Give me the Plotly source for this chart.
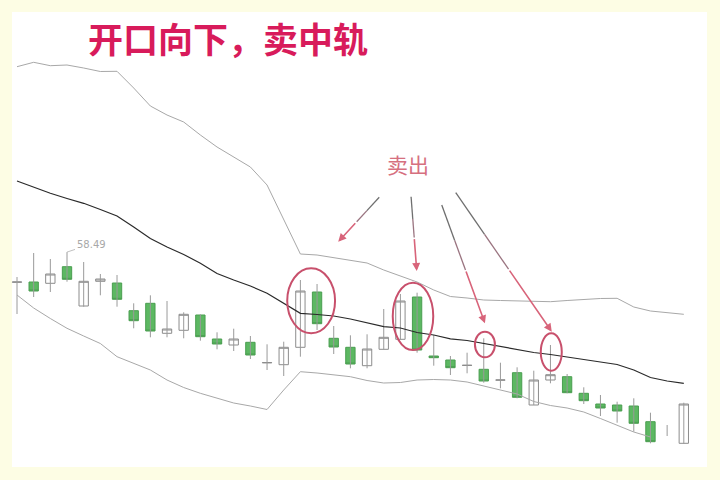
import plotly.graph_objects as go

# ---- data ----
idx = list(range(41))
opens = [55.48, 55.50, 55.37, 57.03, 53.10, 55.57, 55.40, 52.63, 53.37, 50.37,
         50.67, 52.20, 49.80, 49.20, 49.47, 47.42, 47.23, 48.97, 54.50, 49.87,
         48.97, 47.13, 48.77, 49.77, 54.00, 48.10, 47.70, 47.16, 46.77, 45.69,
         46.43, 43.20, 45.70, 46.03, 44.37, 43.30, 43.20, 43.10, 41.53, None,
         39.37]
closes = [55.50, 54.60, 56.30, 55.77, 55.57, 55.80, 53.77, 51.63, 50.60, 50.80,
          52.27, 50.03, 49.30, 49.80, 48.20, 47.44, 48.97, 54.60, 51.33, 49.00,
          47.30, 48.80, 49.97, 53.60, 48.70, 47.93, 46.93, 47.17, 45.60, 45.70,
          43.97, 45.70, 46.23, 44.43, 43.63, 42.90, 42.60, 41.37, 39.53, None,
          43.30]
highs = [56.00, 58.40, 57.80, 58.49, 57.50, 56.30, 56.20, 53.37, 54.17, 53.60,
         52.47, 52.27, 50.47, 50.83, 50.10, 49.27, 49.53, 55.70, 55.30, 51.10,
         50.17, 50.27, 52.80, 54.30, 54.43, 50.20, 48.10, 48.43, 49.87, 47.43,
         46.97, 46.63, 49.20, 46.30, 44.97, 44.20, 43.53, 43.87, 42.43, 41.20,
         43.43]
lows = [52.30, 54.00, 54.50, 55.53, 53.03, 54.17, 53.03, 50.87, 49.97, 49.97,
        49.87, 49.63, 48.77, 48.60, 47.80, 46.70, 46.10, 48.03, 50.70, 48.30,
        46.87, 46.87, 48.77, 49.77, 48.43, 47.13, 46.20, 46.37, 45.43, 44.87,
        43.87, 43.20, 45.37, 44.37, 43.30, 42.10, 41.43, 40.53, 39.37, 40.10,
        39.30]
upper = [77.03, 77.47, 77.13, 77.20, 76.90, 76.55, 76.57, 74.90, 73.10, 72.20,
         71.50, 70.20, 69.00, 68.00, 67.00, 65.20, 61.70, 58.30, 58.20, 57.95,
         57.70, 57.40, 56.70, 56.10, 55.50, 54.70, 54.05, 53.90, 53.70, 53.65,
         53.63, 53.60, 53.53, 53.65, 53.75, 53.85, 53.87, 53.00, 52.60, 52.40,
         52.27]
mid = [65.60, 65.00, 64.37, 63.85, 63.37, 62.75, 62.10, 61.00, 59.85, 59.00,
       58.25, 57.37, 56.35, 55.70, 55.10, 54.37, 53.35, 52.37, 52.25, 52.10,
       51.80, 51.45, 51.03, 50.90, 50.45, 50.20, 49.82, 49.65, 49.35, 49.05,
       48.70, 48.45, 48.25, 48.00, 47.75, 47.45, 47.25, 46.70, 45.95, 45.60,
       45.37]
lower = [54.20, 52.90, 51.85, 50.87, 50.10, 49.35, 48.03, 47.40, 46.70, 45.70,
         44.95, 44.37, 43.90, 43.40, 43.10, 42.75, 44.70, 46.53, 46.40, 46.20,
         46.03, 45.65, 45.40, 45.45, 45.70, 45.75, 45.70, 45.50, 45.10, 44.70,
         44.30, 43.55, 43.15, 42.90, 42.50, 41.85, 41.20, 40.50, 40.00, None,
         None]

title_text = "开口向下，卖中轨"
sell_text = "卖出"
peak_label = "58.49"
peak_index = 3
circled = [(16.21, 19.08, 50.37, 56.87), (22.54, 24.97, 48.70, 55.43),
           (27.47, 28.67, 47.97, 50.53), (31.42, 32.68, 46.63, 50.37)]
arrows = [((21.73, 63.97), (19.27, 59.53)), ((23.64, 64.03), (23.98, 56.6)),
          ((25.48, 63.2), (28.07, 51.37)), ((26.32, 64.43), (32.08, 50.53))]

# ---- figure ----
fig = go.Figure()

wx, wy = [], []
for i, h, l in zip(idx, highs, lows):
    wx += [i, i, None]
    wy += [l, h, None]
fig.add_trace(go.Scatter(x=wx, y=wy, mode="lines",
                         line=dict(color="#9a9a9a", width=1), hoverinfo="skip"))

body_hi = [max(o, c) if o is not None else None for o, c in zip(opens, closes)]
body_lo = [min(o, c) if o is not None else None for o, c in zip(opens, closes)]
fig.add_trace(go.Candlestick(
    x=idx, open=opens, high=body_hi, low=body_lo, close=closes,
    increasing=dict(line=dict(color="#8c8c8c", width=1), fillcolor="white"),
    decreasing=dict(line=dict(color="#4a9e50", width=1), fillcolor="#5cb862"),
    whiskerwidth=0))

fig.add_trace(go.Scatter(x=idx, y=upper, mode="lines",
                         line=dict(color="#a8a8a8", width=1)))
fig.add_trace(go.Scatter(x=idx, y=lower, mode="lines",
                         line=dict(color="#a8a8a8", width=1)))
fig.add_trace(go.Scatter(x=idx, y=mid, mode="lines",
                         line=dict(color="#2a2a2a", width=1.2)))

shapes = [dict(type="rect", xref="paper", yref="paper",
               x0=12/720, x1=707/720, y0=1-467/480, y1=1-12/480,
               fillcolor="white", line=dict(width=0), layer="below")]
for x0, x1, y0, y1 in circled:
    shapes.append(dict(type="circle", xref="x", yref="y", x0=x0, x1=x1,
                       y0=y0, y1=y1, line=dict(color="#c8506c", width=2)))

annotations = [
    dict(text="<b>" + title_text + "</b>", xref="paper", yref="paper",
         x=228/720, y=1-37/480, xanchor="center", yanchor="middle",
         showarrow=False,
         font=dict(family="Noto Sans CJK SC", size=35, color="#d81b5b")),
    dict(text=sell_text, xref="paper", yref="paper", x=407.5/720, y=1-164/480,
         xanchor="center", yanchor="middle", showarrow=False,
         font=dict(family="Noto Sans CJK SC", size=21, color="#d6707f")),
    dict(text=peak_label, x=peak_index, y=highs[peak_index], xref="x", yref="y",
         ax=24, ay=-8, showarrow=True, arrowhead=0, arrowwidth=0.8,
         arrowcolor="#b0b0b0", font=dict(family="DejaVu Sans", size=10,
                                          color="#a8a8a8")),
]
# arrows: dark grey near the text, fading to pink toward the head
seg_colors = ["#6f6f6f", "#9a7480"]
for (tx, ty), (hx, hy) in arrows:
    fr = [0.0, 0.3, 0.55]
    for k in range(2):
        ax0 = tx + (hx - tx) * fr[k]
        ay0 = ty + (hy - ty) * fr[k]
        ax1 = tx + (hx - tx) * fr[k + 1]
        ay1 = ty + (hy - ty) * fr[k + 1]
        shapes.append(dict(type="line", xref="x", yref="y", x0=ax0, y0=ay0,
                           x1=ax1, y1=ay1,
                           line=dict(color=seg_colors[k], width=1.3)))
    sx = tx + (hx - tx) * fr[2]
    sy = ty + (hy - ty) * fr[2]
    annotations.append(dict(text="", x=hx, y=hy, ax=sx, ay=sy, xref="x", yref="y",
                            axref="x", ayref="y", showarrow=True, arrowhead=2,
                            arrowsize=1, arrowwidth=1.6, arrowcolor="#d8647a",
                            standoff=0))

fig.update_layout(
    width=720, height=480, autosize=False,
    margin=dict(l=0, r=0, t=0, b=0, pad=0),
    paper_bgcolor="#fdfde4", plot_bgcolor="rgba(0,0,0,0)",
    showlegend=False, shapes=shapes, annotations=annotations,
    boxgap=0.2,
    xaxis=dict(range=[-17/16.67, (720-17)/16.67], visible=False,
               rangeslider=dict(visible=False), fixedrange=True),
    yaxis=dict(range=[35.7, 83.7], visible=False, fixedrange=True),
)

fig.write_html(
    "out.html",
    config={"displayModeBar": False},
    post_script="document.body.style.margin='0';"
                "document.body.style.overflow='hidden';"
                "document.body.style.background='#fdfde4';",
)
